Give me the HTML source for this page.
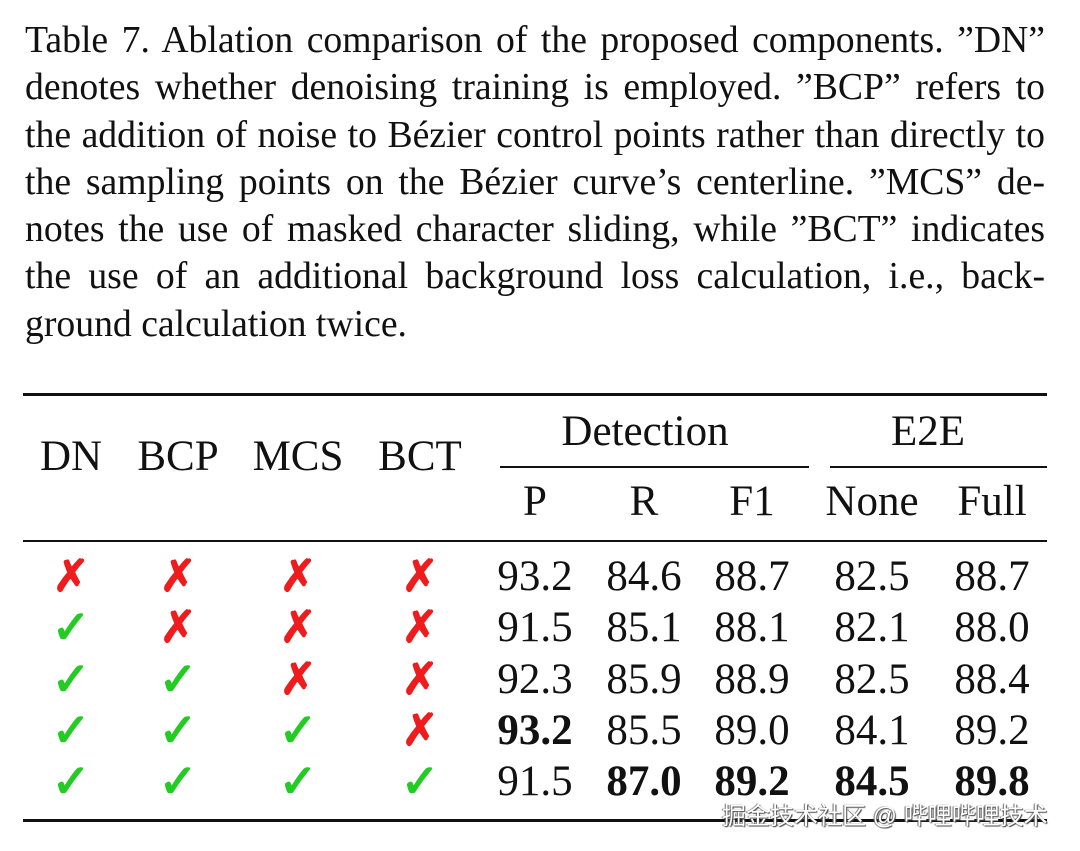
<!DOCTYPE html>
<html><head><meta charset="utf-8">
<style>
body{margin:0;width:1080px;height:851px;background:#fff;position:relative;overflow:hidden;font-family:"Liberation Serif",serif;color:#111}
.cap{position:absolute;left:25px;width:1020px;top:17px;font-size:37.7px;line-height:47.3px;text-align:justify;text-align-last:left}
.cap span.l{display:block;text-align:justify;text-align-last:justify;white-space:nowrap}
.cap span.last{display:block}
.rule{position:absolute;background:#111}
.t{position:absolute;font-size:43px;line-height:40px;transform:translateX(-50%);white-space:nowrap}
.b{font-weight:bold}
.x{color:#ee1c1c;font-size:44px;font-weight:bold}
.c{color:#22cc22;font-size:46px;font-weight:bold}
.wm{position:absolute;left:722px;top:796px;font-family:"Liberation Sans","Noto Sans CJK SC",sans-serif;font-size:24px;color:#fff;text-shadow:1px 1px 1px #444,-1px 0 1px #666;white-space:nowrap}
</style></head><body>
<div class="cap">
<span class="l">Table 7. Ablation comparison of the proposed components. ”DN”</span>
<span class="l">denotes whether denoising training is employed. ”BCP” refers to</span>
<span class="l">the addition of noise to Bézier control points rather than directly to</span>
<span class="l">the sampling points on the Bézier curve’s centerline. ”MCS” de-</span>
<span class="l">notes the use of masked character sliding, while ”BCT” indicates</span>
<span class="l">the use of an additional background loss calculation, i.e., back-</span>
<span class="last">ground calculation twice.</span>
</div>
<div class="rule" style="left:23px;top:393px;width:1024px;height:3px"></div>
<div class="rule" style="left:500px;top:466px;width:309px;height:1.5px"></div>
<div class="rule" style="left:830px;top:466px;width:217px;height:1.5px"></div>
<div class="rule" style="left:23px;top:540px;width:1024px;height:2px"></div>
<div class="rule" style="left:23px;top:819px;width:1024px;height:3px"></div>
<div id="tbl"></div>
<div class="wm">掘金技术社区 @ 哔哩哔哩技术</div>
<script>
const colX=[71,178,298,420,535,644,752,872,992];
const groupHeaders=[["Detection",645,412],["E2E",928,412]];
const mainHeaders=["DN","BCP","MCS","BCT"];
const subHeaders=["P","R","F1","None","Full"];
const flags=[[0,0,0,0],[1,0,0,0],[1,1,0,0],[1,1,1,0],[1,1,1,1]];
const values=[["93.2","84.6","88.7","82.5","88.7"],["91.5","85.1","88.1","82.1","88.0"],["92.3","85.9","88.9","82.5","88.4"],["93.2","85.5","89.0","84.1","89.2"],["91.5","87.0","89.2","84.5","89.8"]];
const bold=[[0,0,0,0,0],[0,0,0,0,0],[0,0,0,0,0],[1,0,0,0,0],[0,1,1,1,1]];
const tbl=document.getElementById('tbl');
function add(txt,x,y,cls,name){const d=document.createElement('div');d.className='t '+(cls||'');d.textContent=txt;d.style.left=x+'px';d.style.top=y+'px';


tbl.appendChild(d);}
groupHeaders.forEach(g=>add(g[0],g[1],g[2],'','group-header'));
mainHeaders.forEach((h,i)=>add(h,colX[i],437,'','column-header'));
subHeaders.forEach((h,i)=>add(h,colX[i+4],482,'','subcolumn-header'));
const rowY=[557,608,660,711,762];
flags.forEach((r,ri)=>{r.forEach((f,ci)=>add(f?'✓':'✗',colX[ci],rowY[ri],f?'c':'x',f?'check-mark':'cross-mark'));
values[ri].forEach((v,ci)=>add(v,colX[ci+4],rowY[ri],bold[ri][ci]?'b':'','value-cell'));});
</script>
</body></html>
